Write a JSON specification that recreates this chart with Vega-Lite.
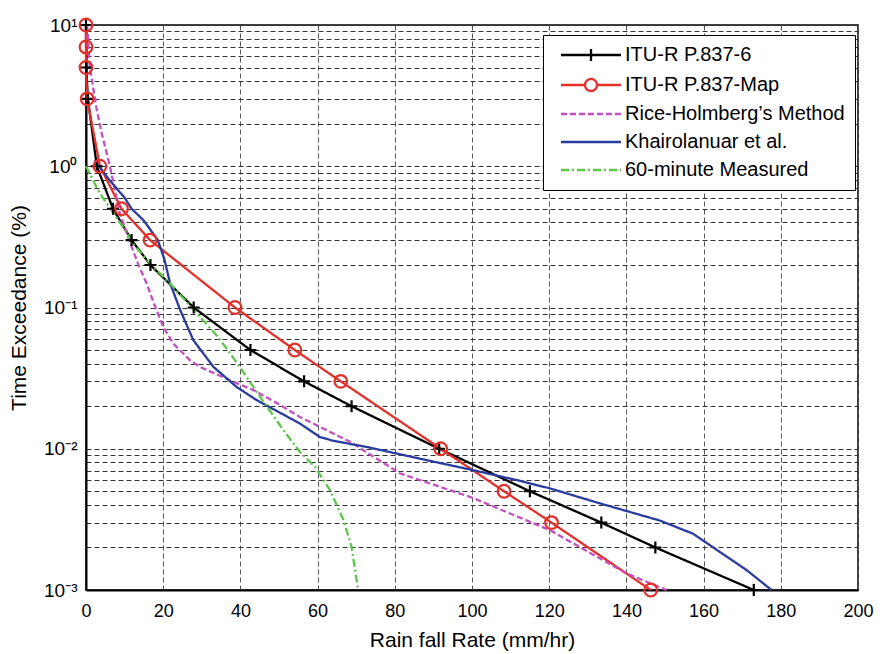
{
  "$schema": "https://vega.github.io/schema/vega-lite/v6.json",
  "width": 772,
  "height": 565,
  "autosize": "none",
  "padding": {"left": 86, "top": 25, "right": 22, "bottom": 64},
  "background": "white",
  "config": {
    "font": "Liberation Sans",
    "view": {"stroke": "black", "strokeWidth": 1.5}
  },
  "data": {
    "values": [
      {"s": "ITU-R P.837-6", "p": 10, "x": 0},
      {"s": "ITU-R P.837-6", "p": 5, "x": 0.05},
      {"s": "ITU-R P.837-6", "p": 3, "x": 0.5},
      {"s": "ITU-R P.837-6", "p": 1, "x": 2.8},
      {"s": "ITU-R P.837-6", "p": 0.5, "x": 7.0},
      {"s": "ITU-R P.837-6", "p": 0.3, "x": 11.8},
      {"s": "ITU-R P.837-6", "p": 0.2, "x": 16.7},
      {"s": "ITU-R P.837-6", "p": 0.1, "x": 27.9},
      {"s": "ITU-R P.837-6", "p": 0.05, "x": 42.6},
      {"s": "ITU-R P.837-6", "p": 0.03, "x": 56.5},
      {"s": "ITU-R P.837-6", "p": 0.02, "x": 68.8},
      {"s": "ITU-R P.837-6", "p": 0.01, "x": 91.5},
      {"s": "ITU-R P.837-6", "p": 0.005, "x": 115},
      {"s": "ITU-R P.837-6", "p": 0.003, "x": 133.5},
      {"s": "ITU-R P.837-6", "p": 0.002, "x": 147.5},
      {"s": "ITU-R P.837-6", "p": 0.001, "x": 173},
      {"s": "ITU-R P.837-Map", "p": 10, "x": 0},
      {"s": "ITU-R P.837-Map", "p": 7, "x": 0},
      {"s": "ITU-R P.837-Map", "p": 5, "x": 0},
      {"s": "ITU-R P.837-Map", "p": 3, "x": 0.3},
      {"s": "ITU-R P.837-Map", "p": 1, "x": 3.6},
      {"s": "ITU-R P.837-Map", "p": 0.5, "x": 9.2},
      {"s": "ITU-R P.837-Map", "p": 0.3, "x": 16.6},
      {"s": "ITU-R P.837-Map", "p": 0.1, "x": 38.6},
      {"s": "ITU-R P.837-Map", "p": 0.05, "x": 54.1},
      {"s": "ITU-R P.837-Map", "p": 0.03, "x": 66},
      {"s": "ITU-R P.837-Map", "p": 0.01, "x": 91.9},
      {"s": "ITU-R P.837-Map", "p": 0.005, "x": 108.3},
      {"s": "ITU-R P.837-Map", "p": 0.003, "x": 120.6},
      {"s": "ITU-R P.837-Map", "p": 0.001, "x": 146.3},
      {"s": "Rice-Holmberg’s Method", "p": 10, "x": 0.3},
      {"s": "Rice-Holmberg’s Method", "p": 5, "x": 1.0},
      {"s": "Rice-Holmberg’s Method", "p": 2.5, "x": 2.8},
      {"s": "Rice-Holmberg’s Method", "p": 1.7, "x": 4.1},
      {"s": "Rice-Holmberg’s Method", "p": 1, "x": 6.2},
      {"s": "Rice-Holmberg’s Method", "p": 0.46, "x": 8.8},
      {"s": "Rice-Holmberg’s Method", "p": 0.27, "x": 11.8},
      {"s": "Rice-Holmberg’s Method", "p": 0.2, "x": 13.6},
      {"s": "Rice-Holmberg’s Method", "p": 0.148, "x": 15.7},
      {"s": "Rice-Holmberg’s Method", "p": 0.1, "x": 18.0},
      {"s": "Rice-Holmberg’s Method", "p": 0.073, "x": 20.0},
      {"s": "Rice-Holmberg’s Method", "p": 0.0556, "x": 22.6},
      {"s": "Rice-Holmberg’s Method", "p": 0.0424, "x": 26.9},
      {"s": "Rice-Holmberg’s Method", "p": 0.038, "x": 29.5},
      {"s": "Rice-Holmberg’s Method", "p": 0.0297, "x": 38.3},
      {"s": "Rice-Holmberg’s Method", "p": 0.026, "x": 43.4},
      {"s": "Rice-Holmberg’s Method", "p": 0.0214, "x": 49},
      {"s": "Rice-Holmberg’s Method", "p": 0.0168, "x": 55.4},
      {"s": "Rice-Holmberg’s Method", "p": 0.0112, "x": 68.4},
      {"s": "Rice-Holmberg’s Method", "p": 0.0067, "x": 81.3},
      {"s": "Rice-Holmberg’s Method", "p": 0.0045, "x": 100.1},
      {"s": "Rice-Holmberg’s Method", "p": 0.00265, "x": 120.2},
      {"s": "Rice-Holmberg’s Method", "p": 0.00167, "x": 133.2},
      {"s": "Rice-Holmberg’s Method", "p": 0.00131, "x": 140},
      {"s": "Rice-Holmberg’s Method", "p": 0.001, "x": 150.4},
      {"s": "Khairolanuar et al.", "p": 1.1, "x": 2.2},
      {"s": "Khairolanuar et al.", "p": 0.79, "x": 6.2},
      {"s": "Khairolanuar et al.", "p": 0.6, "x": 10},
      {"s": "Khairolanuar et al.", "p": 0.5, "x": 11.8},
      {"s": "Khairolanuar et al.", "p": 0.415, "x": 14.9},
      {"s": "Khairolanuar et al.", "p": 0.3, "x": 18.6},
      {"s": "Khairolanuar et al.", "p": 0.22, "x": 20.3},
      {"s": "Khairolanuar et al.", "p": 0.148, "x": 21.8},
      {"s": "Khairolanuar et al.", "p": 0.096, "x": 24.4},
      {"s": "Khairolanuar et al.", "p": 0.0587, "x": 27.8},
      {"s": "Khairolanuar et al.", "p": 0.038, "x": 33},
      {"s": "Khairolanuar et al.", "p": 0.0274, "x": 39},
      {"s": "Khairolanuar et al.", "p": 0.0221, "x": 44.2},
      {"s": "Khairolanuar et al.", "p": 0.0151, "x": 55.4},
      {"s": "Khairolanuar et al.", "p": 0.0121, "x": 60.6},
      {"s": "Khairolanuar et al.", "p": 0.0114, "x": 64},
      {"s": "Khairolanuar et al.", "p": 0.0103, "x": 72.7},
      {"s": "Khairolanuar et al.", "p": 0.0083, "x": 88.3},
      {"s": "Khairolanuar et al.", "p": 0.00707, "x": 100.1},
      {"s": "Khairolanuar et al.", "p": 0.006, "x": 111.6},
      {"s": "Khairolanuar et al.", "p": 0.00524, "x": 120.2},
      {"s": "Khairolanuar et al.", "p": 0.0041, "x": 133.2},
      {"s": "Khairolanuar et al.", "p": 0.0031, "x": 148.7},
      {"s": "Khairolanuar et al.", "p": 0.0025, "x": 157.3},
      {"s": "Khairolanuar et al.", "p": 0.00186, "x": 164.2},
      {"s": "Khairolanuar et al.", "p": 0.00138, "x": 171.2},
      {"s": "Khairolanuar et al.", "p": 0.001, "x": 177.6},
      {"s": "60-minute Measured", "p": 1, "x": 0},
      {"s": "60-minute Measured", "p": 0.64, "x": 3.6},
      {"s": "60-minute Measured", "p": 0.49, "x": 6.6},
      {"s": "60-minute Measured", "p": 0.37, "x": 9.6},
      {"s": "60-minute Measured", "p": 0.28, "x": 12.3},
      {"s": "60-minute Measured", "p": 0.205, "x": 16.6},
      {"s": "60-minute Measured", "p": 0.148, "x": 21.8},
      {"s": "60-minute Measured", "p": 0.0906, "x": 28.7},
      {"s": "60-minute Measured", "p": 0.062, "x": 34.2},
      {"s": "60-minute Measured", "p": 0.0424, "x": 38.6},
      {"s": "60-minute Measured", "p": 0.0233, "x": 45.1},
      {"s": "60-minute Measured", "p": 0.0136, "x": 51.1},
      {"s": "60-minute Measured", "p": 0.0095, "x": 55.4},
      {"s": "60-minute Measured", "p": 0.00745, "x": 59.3},
      {"s": "60-minute Measured", "p": 0.0051, "x": 63.2},
      {"s": "60-minute Measured", "p": 0.00313, "x": 66.7},
      {"s": "60-minute Measured", "p": 0.00202, "x": 68.8},
      {"s": "60-minute Measured", "p": 0.001, "x": 70.5}
    ]
  },
  "encoding": {
    "x": {
      "field": "x", "type": "quantitative",
      "scale": {"domain": [0, 200], "nice": false, "zero": false},
      "axis": {
        "title": "Rain fall Rate (mm/hr)",
        "values": [0, 20, 40, 60, 80, 100, 120, 140, 160, 180, 200],
        "grid": true, "gridDash": [5, 3], "gridColor": "#555555", "gridWidth": 1, "gridOpacity": 1,
        "domainColor": "black", "domainWidth": 2,
        "ticks": false,
        "labelFontSize": 18, "labelColor": "black", "labelPadding": 12, "labelFlush": false, "labelFont": "Liberation Sans",
        "titleFontSize": 21, "titleFontWeight": "normal", "titleColor": "black", "titlePadding": 9, "titleFont": "Liberation Sans"
      }
    },
    "y": {
      "field": "p", "type": "quantitative",
      "scale": {"type": "log", "domain": [0.001, 10], "nice": false},
      "axis": {
        "title": "Time Exceedance (%)",
        "values": [0.001, 0.002, 0.003, 0.004, 0.005, 0.006, 0.007, 0.008, 0.009, 0.01, 0.02, 0.03, 0.04, 0.05, 0.06, 0.07, 0.08, 0.09, 0.1, 0.2, 0.3, 0.4, 0.5, 0.6, 0.7, 0.8, 0.9, 1, 2, 3, 4, 5, 6, 7, 8, 9, 10],
        "labelExpr": "datum.value == 10 ? '10¹' : datum.value == 1 ? '10⁰' : datum.value == 0.1 ? '10⁻¹' : datum.value == 0.01 ? '10⁻²' : datum.value == 0.001 ? '10⁻³' : ''",
        "labelOverlap": false,
        "grid": true, "gridDash": [5, 3], "gridColor": "#333333", "gridWidth": 1, "gridOpacity": 1,
        "domainColor": "black", "domainWidth": 2,
        "ticks": false,
        "labelFontSize": 19, "labelColor": "black", "labelPadding": 9, "labelFont": "Liberation Sans",
        "titleFontSize": 21, "titleFontWeight": "normal", "titleColor": "black", "titlePadding": 14, "titleFont": "Liberation Sans"
      }
    }
  },
  "layer": [
    {
      "mark": {"type": "line"},
      "encoding": {
        "color": {
          "field": "s", "type": "nominal",
          "scale": {
            "domain": ["ITU-R P.837-6", "ITU-R P.837-Map", "Rice-Holmberg’s Method", "Khairolanuar et al.", "60-minute Measured"],
            "range": ["#000000", "#e4302a", "#c54fc2", "#2b3ca0", "#5cc84a"]
          },
          "legend": {
            "title": null, "orient": "none", "legendX": 457, "legendY": 10,
            "symbolType": {"expr": "datum.value == 'ITU-R P.837-6' ? 'M-0.4,0H11.6M5.6,-1.2V1.2' : datum.value == 'ITU-R P.837-Map' ? 'M-0.4,0H4.4M6.8,0H11.6M4.4,0A1.2,1.2,0,1,1,6.8,0A1.2,1.2,0,1,1,4.4,0' : 'M-0.4,0H11.6'"},
            "symbolSize": 100, "symbolStrokeWidth": 2.5, "symbolFillColor": "transparent",
            "labelFontSize": 20, "labelFont": "Liberation Sans", "labelColor": "black", "labelOffset": 52, "labelLimit": 400,
            "padding": 10, "rowPadding": 8,
            "fillColor": "white", "strokeColor": "black"
          }
        },
        "strokeDash": {
          "field": "s", "type": "nominal",
          "scale": {
            "domain": ["ITU-R P.837-6", "ITU-R P.837-Map", "Rice-Holmberg’s Method", "Khairolanuar et al.", "60-minute Measured"],
            "range": [[1, 0], [1, 0], [6, 3], [1, 0], [8, 3, 2, 3]]
          },
          "legend": {
            "title": null, "orient": "none", "legendX": 457, "legendY": 10,
            "symbolType": {"expr": "datum.value == 'ITU-R P.837-6' ? 'M-0.4,0H11.6M5.6,-1.2V1.2' : datum.value == 'ITU-R P.837-Map' ? 'M-0.4,0H4.4M6.8,0H11.6M4.4,0A1.2,1.2,0,1,1,6.8,0A1.2,1.2,0,1,1,4.4,0' : 'M-0.4,0H11.6'"},
            "symbolSize": 100, "symbolStrokeWidth": 2.5, "symbolFillColor": "transparent",
            "labelFontSize": 20, "labelFont": "Liberation Sans", "labelColor": "black", "labelOffset": 52, "labelLimit": 400,
            "padding": 10, "rowPadding": 8,
            "fillColor": "white", "strokeColor": "black"
          }
        },
        "strokeWidth": {
          "field": "s", "type": "nominal",
          "scale": {
            "domain": ["ITU-R P.837-6", "ITU-R P.837-Map", "Rice-Holmberg’s Method", "Khairolanuar et al.", "60-minute Measured"],
            "range": [2.3, 2.3, 2.8, 2.3, 2.4]
          },
          "legend": null
        },
        "order": {"field": "p", "sort": "descending"}
      }
    },
    {
      "transform": [{"filter": "datum.s == 'ITU-R P.837-6'"}],
      "mark": {"type": "point", "shape": "M-1,0H1M0,-1V1", "size": 144, "stroke": "#000000", "strokeWidth": 2.2, "filled": false, "opacity": 1}
    },
    {
      "transform": [{"filter": "datum.s == 'ITU-R P.837-Map'"}],
      "mark": {"type": "point", "shape": "circle", "size": 160, "stroke": "#e4302a", "strokeWidth": 2.2, "filled": false, "opacity": 1}
    }
  ]
}
